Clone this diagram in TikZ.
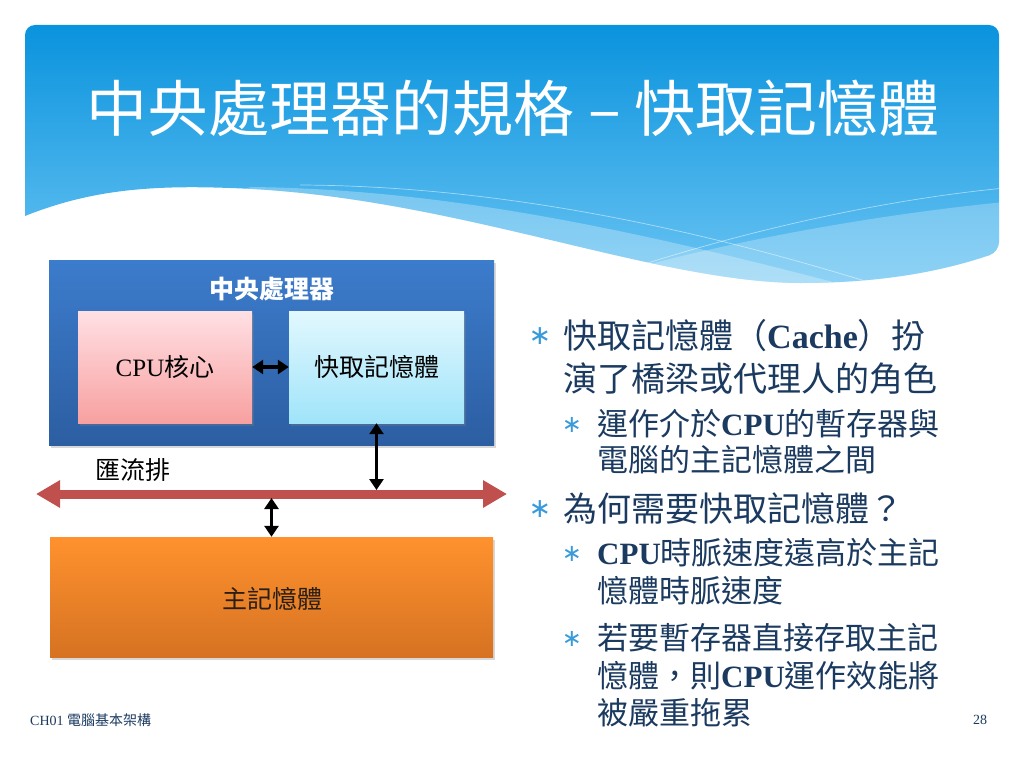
\documentclass[tikz,border=0pt]{standalone}
\usepackage{fontspec}
\setmainfont{Liberation Serif}
\newfontfamily\cjk{Noto Sans CJK TC}
\newfontfamily\bulfont{DejaVu Sans}
\usetikzlibrary{arrows.meta,shadows}
\definecolor{navy}{RGB}{27,58,96}
\definecolor{bulblue}{RGB}{58,155,218}
\definecolor{hdrtop}{RGB}{8,146,221}
\definecolor{hdrbot}{RGB}{110,198,244}
\definecolor{busred}{RGB}{192,80,77}
\definecolor{cputop}{RGB}{60,124,204}
\definecolor{cpubot}{RGB}{44,94,162}
\definecolor{pinktop}{RGB}{255,224,228}
\definecolor{pinkbot}{RGB}{248,160,160}
\definecolor{cyantop}{RGB}{226,248,254}
\definecolor{cyanbot}{RGB}{160,228,250}
\definecolor{orgtop}{RGB}{255,146,46}
\definecolor{orgbot}{RGB}{214,114,34}
\tikzset{
  boxshadow/.style={drop shadow={opacity=0.3,shadow xshift=1.5pt,shadow yshift=-2.5pt}},
  blockbox/.style={inner sep=0pt, boxshadow},
  boxlabel/.style={inner sep=0pt, font=\cjk\fontsize{25}{30}\selectfont, text height=22pt, text depth=3pt},
  barrow/.style={line width=3.6pt, {Triangle[length=11pt,width=14pt]}-{Triangle[length=11pt,width=14pt]}},
  busarrow/.style={busred, line width=9pt, {Triangle[length=24pt,width=26pt]}-{Triangle[length=24pt,width=26pt]}},
  mainline/.style={anchor=west, inner sep=0pt, text=navy, font=\cjk\fontsize{34}{40}\selectfont, text height=30pt, text depth=4pt},
  subline/.style={anchor=west, inner sep=0pt, text=navy, font=\cjk\fontsize{31}{36}\selectfont, text height=27.3pt, text depth=3.7pt},
  mainbul/.style={inner sep=0pt, text=bulblue, font=\bulfont\fontsize{27}{27}\selectfont, text height=17pt, text depth=0pt},
  subbul/.style={inner sep=0pt, text=bulblue, font=\bulfont\fontsize{24}{24}\selectfont, text height=15pt, text depth=0pt},
  footer/.style={inner sep=0pt, text=navy, font=\fontsize{14}{16}\selectfont}
}
\newcommand{\lat}[1]{{\rmfamily\bfseries #1}}
\begin{document}
\begin{tikzpicture}[x=1pt,y=-1pt]
\useasboundingbox (0,0) rectangle (1024,768);
\fill[white] (0,0) rectangle (1024,768);
% header
\begin{scope}
\clip[rounded corners=10pt] (25,216) -- (25,25) -- (999,25) -- (999,252) [sharp corners] .. controls (960,265) and (900,283) .. (800,283) .. controls (650,282) and (450,195) .. (230,188) .. controls (150,185) and (90,190) .. (25,216) -- cycle;
\shade[top color=hdrtop, bottom color=hdrbot] (20,20) rectangle (1004,295);
\fill[white, opacity=0.28] (250,187) .. controls (450,189) and (650,232) .. (900,300) -- (900,330) -- (0,330) -- cycle;
\fill[white, opacity=0.25] (600,278) .. controls (720,242) and (880,214) .. (1005,202) -- (1005,330) -- (600,330) -- cycle;
\draw[white, opacity=0.5, line width=0.7pt] (620,272) .. controls (740,232) and (880,200) .. (1005,188);
\draw[white, opacity=0.5, line width=0.7pt] (300,185) .. controls (500,186) and (700,228) .. (900,292);
\end{scope}
\node[inner sep=0pt, text=white, font=\cjk\fontsize{61}{70}\selectfont, text height=53.7pt, text depth=7.3pt] (title) at (513,108) {中央處理器的規格 – 快取記憶體};
% diagram
\node[blockbox, minimum width=445pt, minimum height=185pt, top color=cputop, bottom color=cpubot] (cpu) at (271.5,352.5) {};
\node[boxlabel, text=white, font=\cjk\bfseries\fontsize{25}{30}\selectfont] (cpuT) at (272,289) {中央處理器};
\node[blockbox, minimum width=174pt, minimum height=112pt, top color=pinktop, bottom color=pinkbot] (core) at (165,367) {};
\node[blockbox, minimum width=175pt, minimum height=112pt, top color=cyantop, bottom color=cyanbot] (cache) at (376.5,367) {};
\node[boxlabel] (coreT) at (core.center) {{\rmfamily CPU}核心};
\node[boxlabel] (cacheT) at (cache.center) {快取記憶體};
\draw[barrow] (core.east) -- (cache.west);
\coordinate (busL) at (36,494);
\coordinate (busR) at (507,494);
\draw[busarrow] (busL) -- (busR);
\node[boxlabel] (busT) at (133,470) {匯流排};
\coordinate (b1) at (376.5,490);
\draw[barrow] (cache.south) -- (b1);
\node[blockbox, minimum width=443pt, minimum height=120pt, top color=orgtop, bottom color=orgbot] (mem) at (271.5,597) {};
\node[boxlabel, text={rgb,255:red,40;green,30;blue,20}] (memT) at (272,599) {主記憶體};
\coordinate (b2) at (271.5,498);
\draw[barrow] (b2) -- (mem.north);
% right text
\node[mainbul] (u1) at (540,336) {∗};
\node[mainline] (l1) at (563,335) {快取記憶體（\lat{Cache}）扮};
\node[mainline] (l2) at (563,378) {演了橋梁或代理人的角色};
\node[subbul] (u2) at (572,425) {∗};
\node[subline] (l3) at (597,424) {運作介於\lat{CPU}的暫存器與};
\node[subline] (l4) at (597,460) {電腦的主記憶體之間};
\node[mainbul] (u3) at (540,509) {∗};
\node[mainline] (l5) at (563,508) {為何需要快取記憶體？};
\node[subbul] (u4) at (572,554) {∗};
\node[subline] (l6) at (597,553) {\lat{CPU}時脈速度遠高於主記};
\node[subline] (l7) at (597,591) {憶體時脈速度};
\node[subbul] (u5) at (572,639) {∗};
\node[subline] (l8) at (597,638) {若要暫存器直接存取主記};
\node[subline] (l9) at (597,676) {憶體，則\lat{CPU}運作效能將};
\node[subline] (l10) at (597,713) {被嚴重拖累};
% footer
\node[footer, anchor=west] (f1) at (30,720) {CH01 {\cjk 電腦基本架構}};
\node[footer] (f2) at (980,720) {28};
\end{tikzpicture}
\end{document}
